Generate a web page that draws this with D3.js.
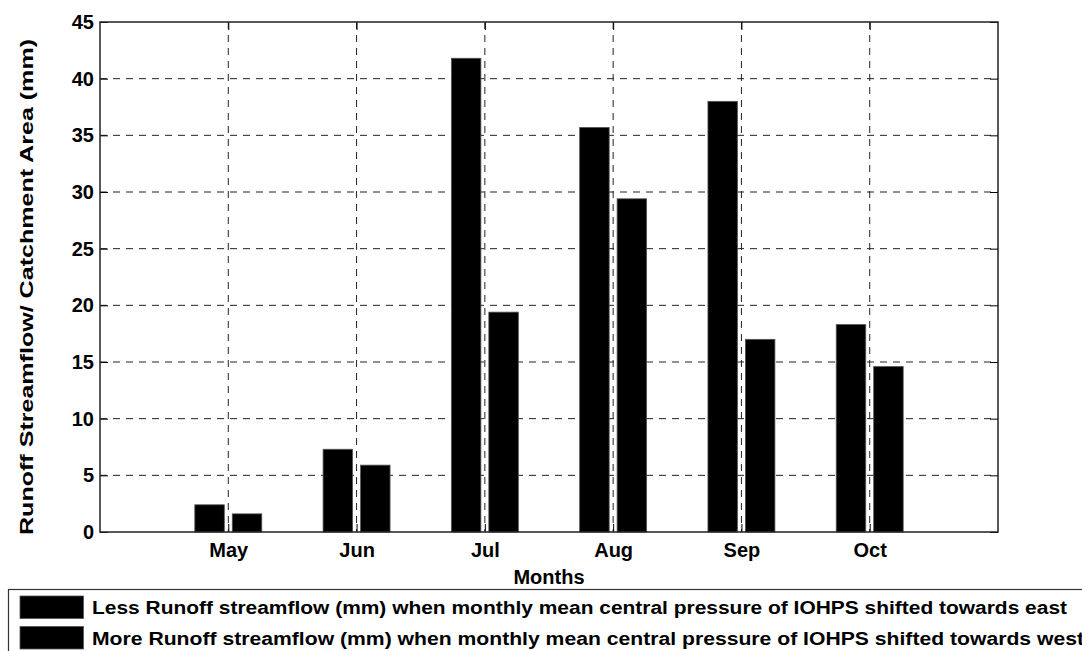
<!DOCTYPE html>
<html>
<head>
<meta charset="utf-8">
<script src="https://cdn.jsdelivr.net/npm/d3@7"></script>
<style>
  html, body { margin: 0; padding: 0; background: #fff; }
  svg { display: block; }
  text { font-family: "Liberation Sans", Arial, Helvetica, sans-serif; font-weight: bold; fill: #000; }
</style>
</head>
<body>
<svg id="chart" width="1082" height="651"></svg>
<script>
// Monthly runoff per catchment area (mm)
const months = ["May", "Jun", "Jul", "Aug", "Sep", "Oct"];
const lessRunoff = [2.4, 7.3, 41.8, 35.7, 38.0, 18.3];
const moreRunoff = [1.6, 5.9, 19.4, 29.4, 17.0, 14.6];
const yTicks = [0, 5, 10, 15, 20, 25, 30, 35, 40, 45];
const seriesNames = [
  "Less Runoff streamflow (mm) when monthly mean central pressure of IOHPS shifted towards east",
  "More Runoff streamflow (mm) when monthly mean central pressure of IOHPS shifted towards west"
];

const svg = d3.select("#chart");
const plot = { left: 100, right: 998, top: 22, bottom: 532 };

// Month positions 1..6 on a 0..7 axis
const x = d3.scaleLinear().domain([0, months.length + 1]).range([plot.left, plot.right]);
const y = d3.scaleLinear().domain([0, 45]).range([plot.bottom, plot.top]);

const barWidth = 0.23;
const barOffset = [-0.146, 0.146];

// Dashed grid
const grid = svg.append("g").attr("stroke", "#222").attr("stroke-width", 1)
  .attr("stroke-dasharray", "7,6").attr("fill", "none");
grid.selectAll("line.h").data(yTicks.slice(1, -1)).join("line")
  .attr("x1", plot.left).attr("x2", plot.right)
  .attr("y1", d => y(d)).attr("y2", d => y(d));
grid.selectAll("line.v").data(months).join("line")
  .attr("x1", (d, i) => x(i + 1)).attr("x2", (d, i) => x(i + 1))
  .attr("y1", plot.top).attr("y2", plot.bottom);

// Bars
const series = [lessRunoff, moreRunoff];
series.forEach((vals, s) => {
  svg.append("g").selectAll("rect").data(vals).join("rect")
    .attr("x", (d, i) => x(i + 1 + barOffset[s] - barWidth / 2))
    .attr("width", x(barWidth) - x(0))
    .attr("y", d => y(d))
    .attr("height", d => y(0) - y(d))
    .attr("fill", "#000")
    .attr("stroke", "#555")
    .attr("stroke-width", 0.8);
});

// Axes with inward ticks
const tickLen = 8;
const axisLeft = d3.axisLeft(y).tickValues(yTicks).tickSizeInner(-tickLen).tickSizeOuter(0).tickPadding(6);
const axisRight = d3.axisRight(y).tickValues(yTicks).tickSizeInner(-tickLen).tickSizeOuter(0).tickFormat("");
const axisBottom = d3.axisBottom(x).tickValues(d3.range(1, months.length + 1))
  .tickFormat(d => months[d - 1]).tickSizeInner(-tickLen).tickSizeOuter(0).tickPadding(11);
const axisTop = d3.axisTop(x).tickValues(d3.range(1, months.length + 1))
  .tickFormat("").tickSizeInner(-tickLen).tickSizeOuter(0);

function styleAxis(g) {
  g.select(".domain").remove();
  g.selectAll(".tick line").attr("stroke", "#000").attr("stroke-width", 1);
  g.selectAll(".tick text").attr("font-size", 20).attr("fill", "#000");
}
svg.append("g").attr("transform", `translate(${plot.left},0)`).call(axisLeft).call(styleAxis);
svg.append("g").attr("transform", `translate(${plot.right},0)`).call(axisRight).call(styleAxis);
svg.append("g").attr("transform", `translate(0,${plot.bottom})`).call(axisBottom).call(styleAxis);
svg.append("g").attr("transform", `translate(0,${plot.top})`).call(axisTop).call(styleAxis);

// Plot frame
svg.append("rect")
  .attr("x", plot.left).attr("y", plot.top)
  .attr("width", plot.right - plot.left).attr("height", plot.bottom - plot.top)
  .attr("fill", "none").attr("stroke", "#222").attr("stroke-width", 1.5);

// Axis titles
svg.append("text")
  .attr("x", (plot.left + plot.right) / 2).attr("y", 584)
  .attr("text-anchor", "middle").attr("font-size", 20)
  .text("Months");
svg.append("text")
  .attr("transform", `translate(33,${(plot.top + plot.bottom) / 2 + 10}) rotate(-90)`)
  .attr("text-anchor", "middle").attr("font-size", 18)
  .attr("textLength", 496).attr("lengthAdjust", "spacingAndGlyphs")
  .text("Runoff Streamflow/ Catchment Area (mm)");

// Legend
const legend = svg.append("g");
legend.append("rect")
  .attr("x", 8.5).attr("y", 589.5).attr("width", 1090).attr("height", 80)
  .attr("fill", "#fff").attr("stroke", "#333").attr("stroke-width", 1.2);
const legendRows = [{ y: 596, w: 975 }, { y: 626.5, w: 992 }];
seriesNames.forEach((name, i) => {
  legend.append("rect")
    .attr("x", 20).attr("y", legendRows[i].y).attr("width", 63.5).attr("height", 22.5)
    .attr("fill", "#000").attr("stroke", "#555").attr("stroke-width", 0.8);
  legend.append("text")
    .attr("x", 92).attr("y", legendRows[i].y + 18)
    .attr("font-size", 18)
    .attr("textLength", legendRows[i].w).attr("lengthAdjust", "spacingAndGlyphs")
    .text(name);
});
</script>
</body>
</html>
